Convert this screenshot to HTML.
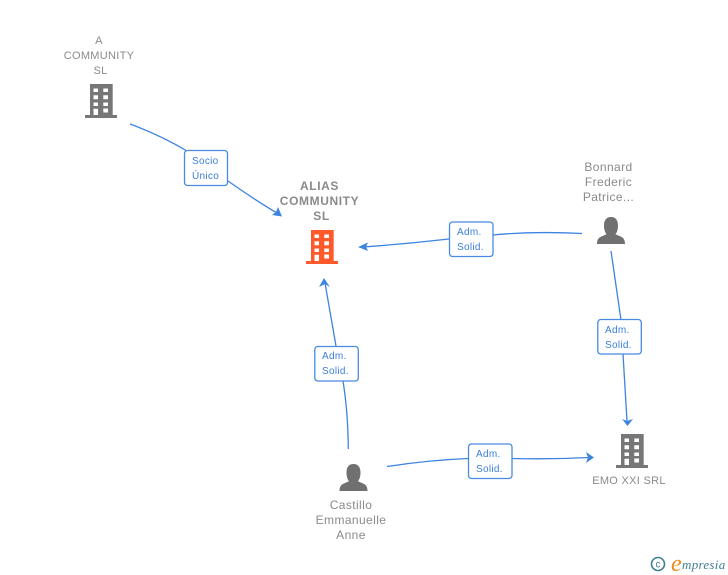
<!DOCTYPE html>
<html><head><meta charset="utf-8"><style>
html,body{margin:0;padding:0;background:#fff;width:728px;height:575px;overflow:hidden}
svg{display:block}
.t{font-family:"Liberation Sans",sans-serif;font-size:12px;fill:#8a8a8a;text-anchor:middle;letter-spacing:.4px}
.c{font-family:"Liberation Sans",sans-serif;font-size:11px;fill:#8a8a8a;text-anchor:middle;letter-spacing:.3px}
.b{font-family:"Liberation Sans",sans-serif;font-size:12px;font-weight:bold;fill:#8a8a8a;text-anchor:middle;letter-spacing:.6px}
.l{font-family:"Liberation Sans",sans-serif;font-size:10px;fill:#3a7fdc;letter-spacing:.3px}
.e{fill:none;stroke:#3d84e0;stroke-width:1.3}
.a{fill:#3d84e0}
.box{fill:#fff;stroke:#4a8ae2;stroke-width:1.3}
</style></head><body>
<svg width="728" height="575" viewBox="0 0 728 575" xmlns="http://www.w3.org/2000/svg">
<defs>
<g id="bld">
<path fill-rule="evenodd" d="M90 84H112.7V115H117V118H85V115H90ZM93.5 88.5V92H98V88.5ZM103.3 88.5V92H108V88.5ZM93.5 95.2V99.2H98V95.2ZM103.3 95.2V99.2H108V95.2ZM93.5 102.5V106H98V102.5ZM103.3 102.5V106H108V102.5ZM93.5 108.7V115H98V108.7ZM103.3 108.5V112.5H108V108.5Z"/>
</g>
<g id="per">
<path d="M0 27C0 22.500 1.500 20.500 5 19.200L9.500 17.300C8 15.300 7 12.500 7 8.500C7 3 9.500 0 14 0C18.500 0 21 3 21 8.500C21 12.500 20 15.300 18.500 17.300L23 19.200C26.500 20.500 28 22.500 28 27Z"/>
</g>
</defs>

<path class="e" d="M130 124Q160 135 187 151"/>
<path class="e" d="M228 181Q255 200 277 213"/>
<path class="a" d="M282 216.500L272 215L276 212L278 207Z"/>

<path class="e" d="M582 233.500Q535 231 492 235"/>
<path class="e" d="M449 239Q405 244 363 247"/>
<path class="a" d="M358 247L368 242.500L366 247L368 251Z"/>

<path class="e" d="M611 251Q616 285 621 320"/>
<path class="e" d="M623 354L627 421"/>
<path class="a" d="M627.500 426L622 419L627 421L633 419Z"/>

<path class="e" d="M348.300 449Q348 412 343 381"/>
<path class="e" d="M336 346L325 283"/>
<path class="a" d="M324 278L330 287L325 284L319 287Z"/>

<path class="e" d="M387 466.500Q430 460 468 458.500"/>
<path class="e" d="M512 458.500Q550 459.500 589 457.500"/>
<path class="a" d="M594 457.500L586 452L588 457.500L586 463Z"/>

<use href="#bld" fill="#777"/>
<use href="#bld" fill="#ff5a2b" x="221" y="146"/>
<use href="#bld" fill="#777" x="531" y="350"/>
<use href="#per" fill="#707070" x="597" y="217"/>
<use href="#per" fill="#707070" x="339.500" y="464"/>

<text class="c" x="99" y="44">A</text>
<text class="c" x="99" y="59">COMMUNITY</text>
<text class="c" x="100.500" y="74">SL</text>

<text class="b" x="319.500" y="190">ALIAS</text>
<text class="b" x="319.500" y="205">COMMUNITY</text>
<text class="b" x="321.500" y="220">SL</text>

<text class="t" x="608.500" y="171">Bonnard</text>
<text class="t" x="608.500" y="186">Frederic</text>
<text class="t" x="608.500" y="201">Patrice...</text>

<text class="c" x="629" y="484">EMO XXI SRL</text>

<text class="t" x="351" y="509">Castillo</text>
<text class="t" x="351" y="524">Emmanuelle</text>
<text class="t" x="351" y="539">Anne</text>

<rect class="box" x="184.500" y="150.500" width="43" height="35" rx="3"/>
<text class="l" x="192" y="164">Socio</text>
<text class="l" x="192" y="179">Único</text>

<rect class="box" x="449.500" y="222" width="43.500" height="34.500" rx="3"/>
<text class="l" x="457" y="235">Adm.</text>
<text class="l" x="457" y="250">Solid.</text>

<rect class="box" x="597.800" y="319.500" width="43.500" height="34.500" rx="3"/>
<text class="l" x="605" y="333">Adm.</text>
<text class="l" x="605" y="348">Solid.</text>

<rect class="box" x="314.800" y="346.500" width="43.500" height="34.500" rx="3"/>
<text class="l" x="322" y="359">Adm.</text>
<text class="l" x="322" y="374">Solid.</text>

<rect class="box" x="468.500" y="444" width="43.500" height="34.500" rx="3"/>
<text class="l" x="476" y="457">Adm.</text>
<text class="l" x="476" y="472">Solid.</text>

<circle cx="658" cy="564" r="6.500" fill="none" stroke="#3f7f96" stroke-width="1.600"/>
<text x="658" y="567.500" text-anchor="middle" font-family="Liberation Sans, sans-serif" font-size="10" fill="#3f7f96">c</text>
<text x="671" y="571" font-family="Liberation Serif, serif" font-style="italic" font-size="24" fill="#f08a1d">e</text>
<text x="682" y="569" font-family="Liberation Serif, serif" font-style="italic" font-size="13" fill="#3f7f96" letter-spacing=".3">mpresia</text>
</svg>
</body></html>
